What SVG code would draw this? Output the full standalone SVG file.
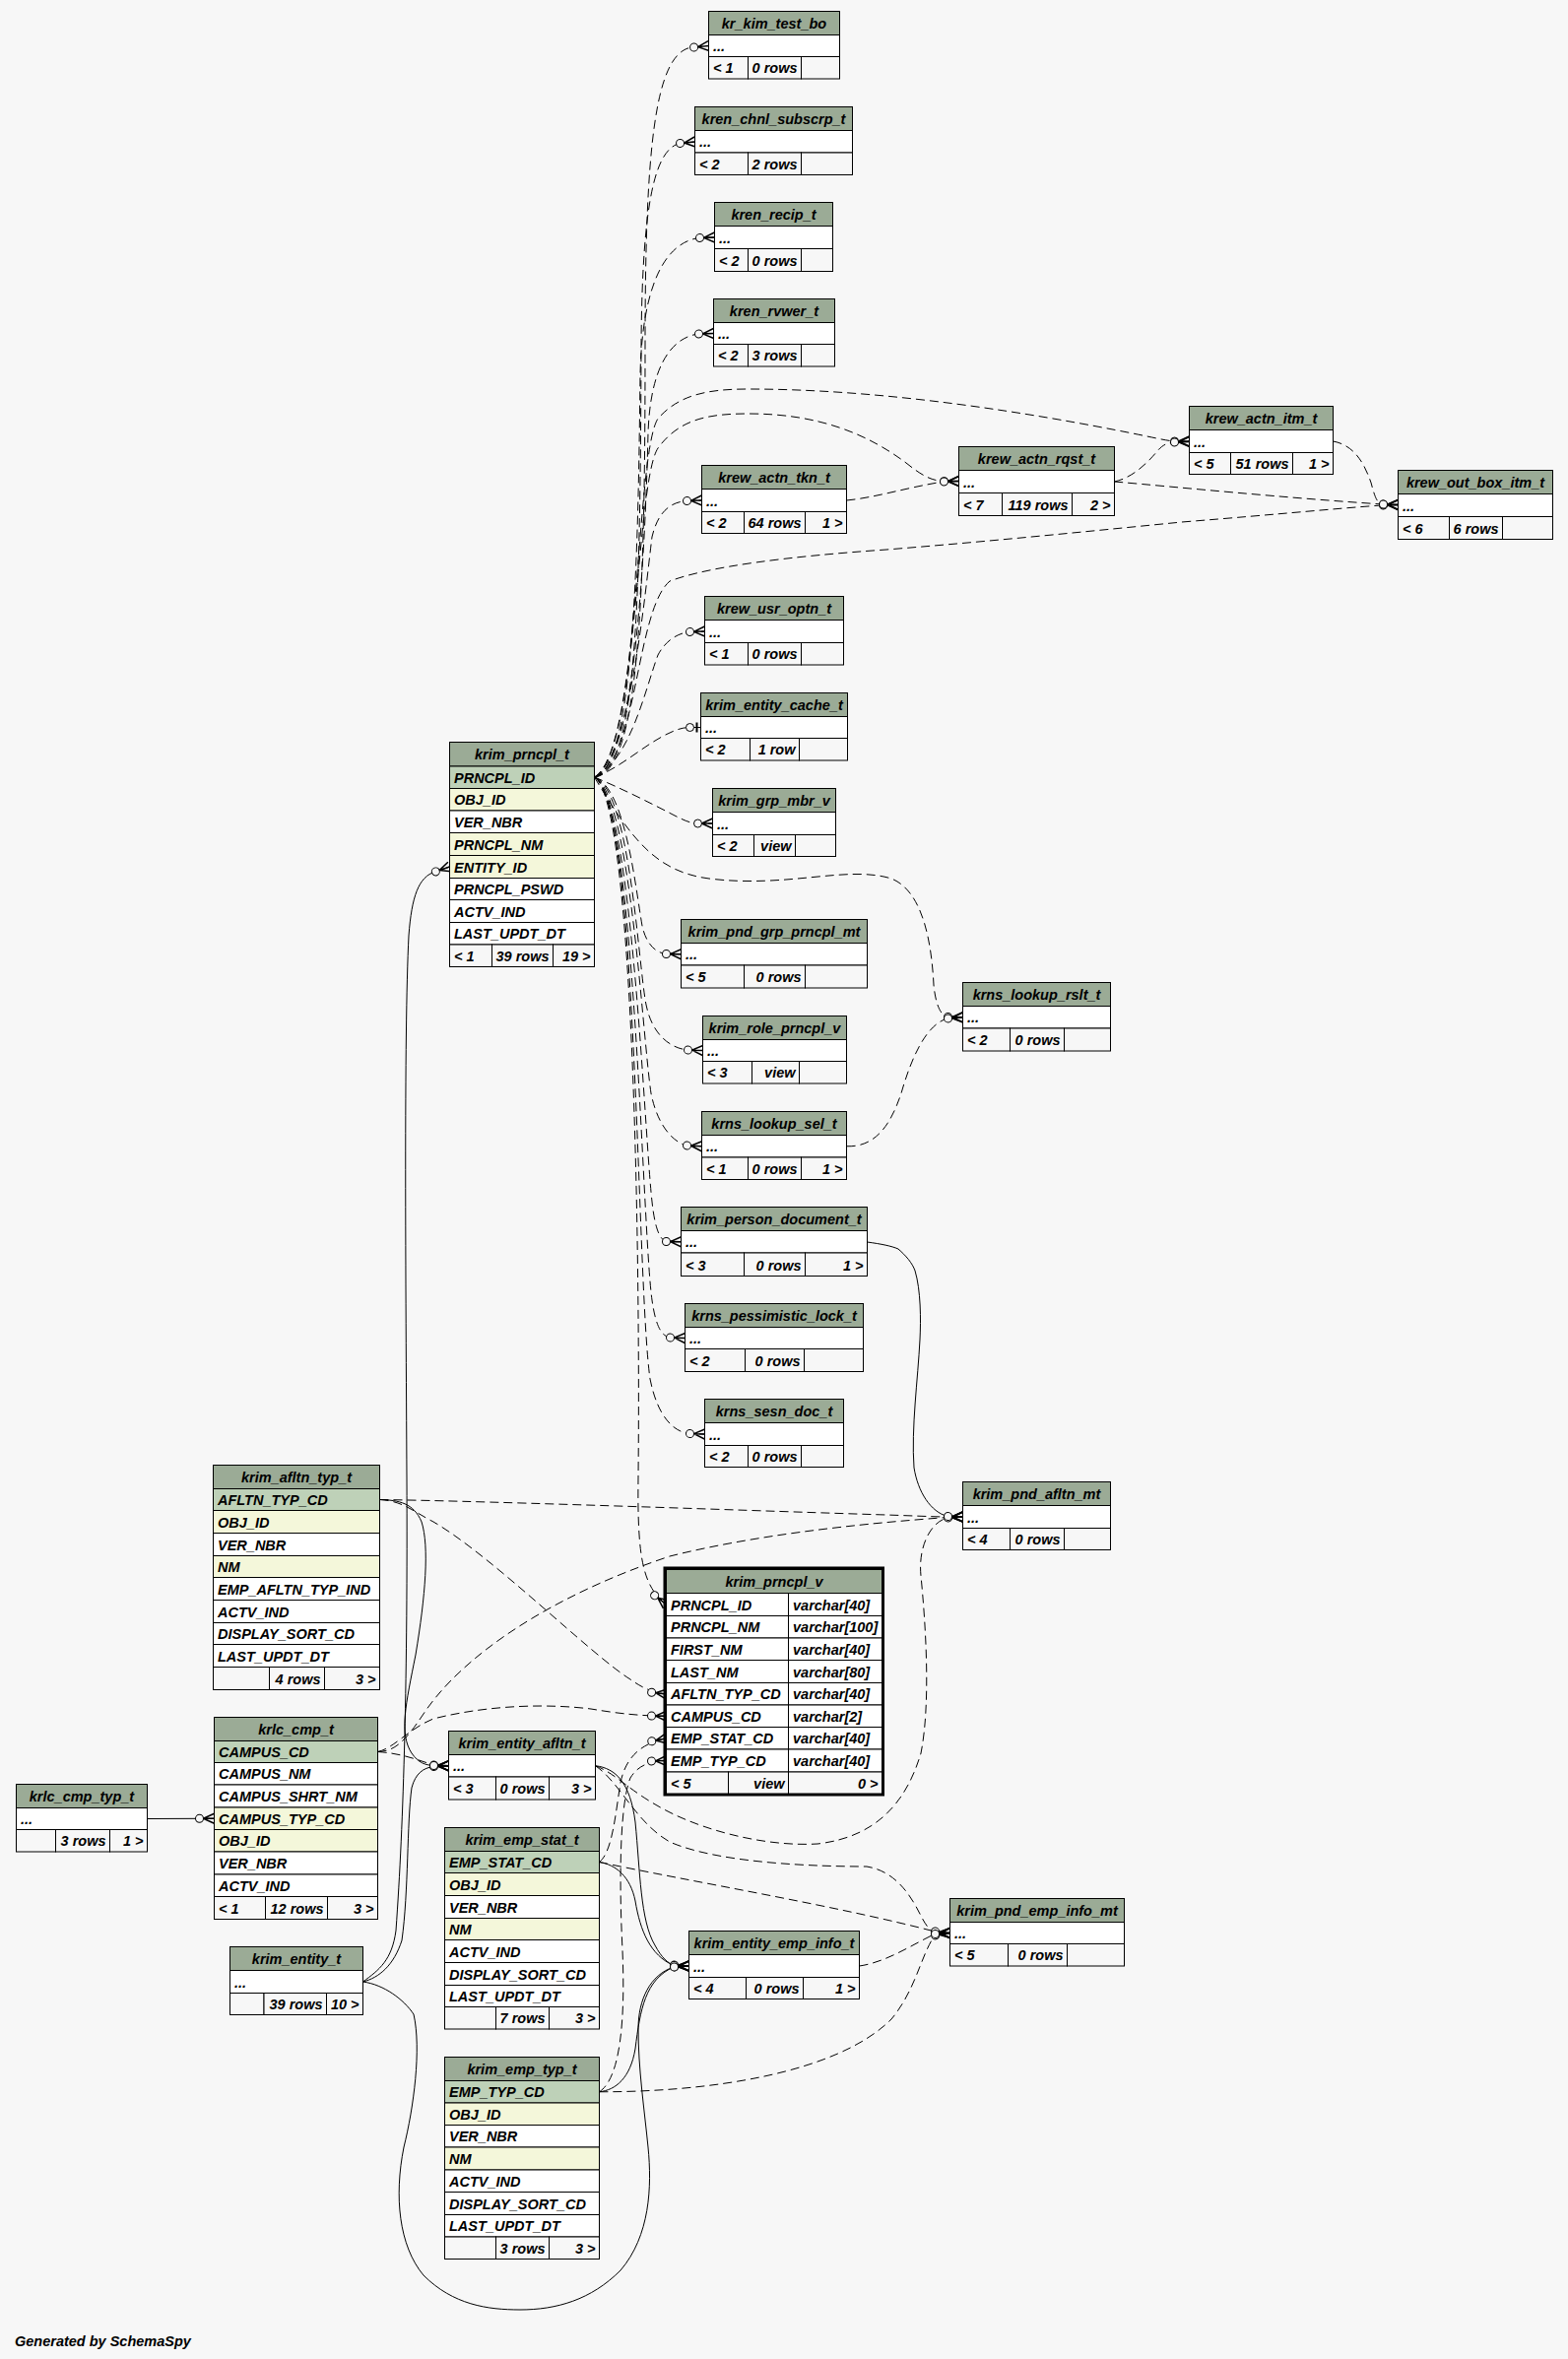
<svg xmlns="http://www.w3.org/2000/svg" width="1592" height="2395" viewBox="0 0 1592 2395">
<style>
text{font-family:"Liberation Sans",Arial,Helvetica,sans-serif;font-size:14.5px;font-weight:bold;font-style:italic;fill:#000}
.t{text-anchor:middle}
.r{text-anchor:end}
.h,.pk,.ix,.w,.f{stroke:#000;stroke-width:1}
.h{fill:#9bab96}.pk{fill:#bed1b8}.ix{fill:#f4f7da}.w{fill:#fff}.f{fill:#f7f7f7}
.c{fill:none;stroke:#000;stroke-width:1}
.d{stroke-dasharray:9,5}
.bold{fill:none;stroke:#000;stroke-width:3}
</style>
<defs>
<marker id="many" viewBox="-22 -8 24 16" markerWidth="24" markerHeight="16" refX="0" refY="0" orient="auto" markerUnits="userSpaceOnUse" overflow="visible">
<path d="M-11,0 L0,-5 M-11,0 L0,0 M-11,0 L0,5" fill="none" stroke="#000" stroke-width="1.5" stroke-dasharray="none"/>
<circle cx="-15" cy="0" r="4" fill="#f7f7f7" stroke="#000" stroke-width="1" stroke-dasharray="none"/>
</marker>
<marker id="one" viewBox="-18 -8 20 16" markerWidth="20" markerHeight="16" refX="0" refY="0" orient="auto" markerUnits="userSpaceOnUse" overflow="visible">
<path d="M-4,-5 L-4,5" fill="none" stroke="#000" stroke-width="2" stroke-dasharray="none"/>
<circle cx="-11" cy="0" r="4" fill="#f7f7f7" stroke="#000" stroke-width="1" stroke-dasharray="none"/>
</marker>
</defs>
<rect x="0" y="0" width="1592" height="2395" fill="#f7f7f7"/>

<g id="connectors">
<path class="c d" marker-end="url(#many)" d="M603.5,789 C650,785 655,600 655,350 C655,150 665,58 700,48.5 L719.5,46.5"/>
<path class="c d" marker-end="url(#many)" d="M603.5,789 C648,783 650,600 651,350 C652,200 666,152 690,145.5 L705.5,144"/>
<path class="c d" marker-end="url(#many)" d="M603.5,789 C645,780 648,550 650,380 C652,290 675,246 710,241.5 L725.5,241"/>
<path class="c d" marker-end="url(#many)" d="M603.5,789 C645,778 655,560 658,440 C660,375 680,343 709,339 L724.5,338.5"/>
<path class="c d" marker-end="url(#many)" d="M603.5,789 C640,770 655,600 662,545 C668,520 680,510 697,508.5 L712.5,508"/>
<path class="c d" marker-end="url(#many)" d="M603.5,789 C640,772 655,700 668,665 C676,650 688,643 700,641.5 L715.5,641"/>
<path class="c d" marker-end="url(#one)" d="M603.5,789 C630,780 655,755 680,744 C688,740 695,738.5 700,738.5 L711.5,738.5"/>
<path class="c d" marker-end="url(#many)" d="M603.5,789 C630,800 660,815 685,828 C695,833 700,835.5 708,836 L723.5,836"/>
<path class="c d" marker-end="url(#many)" d="M603.5,789 C635,800 645,900 652,940 C656,958 665,967 676,968.5 L691.5,968.75"/>
<path class="c d" marker-end="url(#many)" d="M603.5,789 C640,802 648,980 656,1020 C662,1050 680,1064 698,1066 L713.5,1066.5"/>
<path class="c d" marker-end="url(#many)" d="M603.5,789 C640,805 652,1050 661,1110 C668,1145 685,1160 697,1163 L712.5,1163.75"/>
<path class="c d" marker-end="url(#many)" d="M603.5,789 C642,808 654,1150 662,1220 C665,1248 670,1258 676,1260.5 L691.5,1260.75"/>
<path class="c d" marker-end="url(#many)" d="M603.5,789 C645,810 652,1250 662,1320 C666,1348 672,1356 680,1358 L695.5,1358.5"/>
<path class="c d" marker-end="url(#many)" d="M603.5,789 C648,812 646,1300 660,1400 C668,1440 685,1454 700,1455.5 L715.5,1456"/>
<path class="c d" marker-end="url(#many)" d="M603.5,789 C645,815 650,1300 648,1500 C647,1580 652,1610 676.5,1629"/>
<path class="c d" marker-end="url(#many)" d="M603.5,789 C640,850 665,885 720,892 C800,902 860,878 905,892 C938,905 946,960 948,1000 C950,1020 955,1031 962,1032.5 L977.5,1032.75"/>
<path class="c d" marker-end="url(#many)" d="M603.5,789 C648,765 645,490 668,455 C690,425 720,420 760,420 C830,420 880,440 920,470 C935,482 945,488 958,488.5 L973.5,488.5"/>
<path class="c d" marker-end="url(#many)" d="M603.5,789 C650,762 645,460 668,425 C690,400 720,395 760,395 C900,395 1050,420 1150,440 C1170,444 1185,447.5 1192,448 L1207.5,448"/>
<path class="c d" marker-end="url(#many)" d="M603.5,789 C648,772 645,620 680,590 C720,575 800,565 900,558 C1000,550 1100,540 1200,530 C1300,522 1370,515 1404,513 L1419.5,512.5"/>
<path class="c d" marker-end="url(#many)" d="M859.5,508 C890,505 920,495 958,489 L973.5,488.5"/>
<path class="c d" marker-end="url(#many)" d="M1131.5,489 C1150,485 1165,470 1175,458 C1180,452 1185,449.5 1192,449 L1207.5,448.5"/>
<path class="c d" marker-end="url(#many)" d="M1131.5,489 C1200,495 1300,505 1404,512 L1419.5,512.5"/>
<path class="c d" marker-end="url(#many)" d="M1353.5,448 C1375,452 1385,470 1392,490 C1396,505 1398,511 1404,512 L1419.5,512.5"/>
<path class="c d" marker-end="url(#many)" d="M859.5,1163.75 C890,1165 905,1140 915,1110 C925,1075 940,1040 962,1034 L977.5,1033"/>
<path class="c d" marker-end="url(#many)" d="M385.5,1522.5 C500,1524 800,1535 900,1538 C930,1539 950,1540 962,1540 L977.5,1540"/>
<path class="c d" marker-end="url(#many)" d="M385.5,1522.5 C410,1524 420,1535 440,1545 C500,1580 600,1680 640,1705 C650,1712 660,1718 676.5,1720"/>
<path class="c d" marker-end="url(#many)" d="M383.5,1778.5 C400,1778 410,1770 430,1740 C470,1680 560,1620 680,1580 C780,1555 900,1545 962,1540.5 L977.5,1540"/>
<path class="c d" marker-end="url(#many)" d="M383.5,1778.5 C400,1775 415,1755 440,1745 C500,1730 560,1730 600,1735 C630,1740 650,1742 676.5,1742.25"/>
<path class="c d" marker-end="url(#many)" d="M383.5,1778.5 C405,1780 420,1785 440,1792 L455.5,1792.75"/>
<path class="c d" marker-end="url(#many)" d="M604.5,1792.75 C625,1800 640,1820 680,1840 C720,1860 780,1875 830,1872 C890,1865 920,1830 935,1780 C945,1730 940,1650 935,1600 C932,1570 945,1545 962,1541 L977.5,1540"/>
<path class="c d" marker-end="url(#many)" d="M604.5,1792.75 C630,1810 645,1850 680,1870 C730,1892 830,1895 880,1895 C910,1900 925,1925 935,1945 C940,1955 945,1961 949,1962 L964.5,1962.5"/>
<path class="c d" marker-end="url(#many)" d="M608.5,1890.5 C700,1910 850,1935 949,1961 L964.5,1962.5"/>
<path class="c d" marker-end="url(#many)" d="M608.5,2123.75 C720,2124 850,2105 905,2050 C930,2020 935,1985 949,1965 L964.5,1962.5"/>
<path class="c d" marker-end="url(#many)" d="M872.5,1996 C900,1992 925,1975 949,1963.5 L964.5,1962.5"/>
<path class="c d" marker-end="url(#many)" d="M608.5,1890.5 C622,1880 625,1840 630,1810 C635,1785 650,1770 676.5,1765"/>
<path class="c d" marker-end="url(#many)" d="M608.5,2123.75 C630,2110 635,2050 632,1980 C628,1900 630,1830 640,1805 C648,1792 660,1788 676.5,1787.5"/>
<path class="c" marker-end="url(#many)" d="M149.5,1846.5 L217.5,1846.25"/>
<path class="c" marker-end="url(#many)" d="M368.5,2012 C385,2000 398,1990 402,1960 C410,1850 414,1700 413,1500 C412,1300 410,1050 415,950 C418,910 425,890 442,885 L456.5,880"/>
<path class="c" marker-end="url(#many)" d="M368.5,2012 C385,2008 400,1995 408,1970 C415,1920 413,1850 418,1815 C422,1800 430,1795 440,1793.5 L455.5,1792.75"/>
<path class="c" marker-end="url(#many)" d="M385.5,1522.5 C405,1523 420,1526 428,1545 C436,1570 432,1620 422,1680 C412,1730 405,1760 418,1780 C425,1790 432,1792 440,1792.5 L455.5,1792.75"/>
<path class="c" marker-end="url(#many)" d="M368.5,2012 C390,2015 410,2030 420,2045 C428,2080 420,2140 410,2180 C400,2230 405,2280 430,2310 C460,2340 495,2345 528,2345 C565,2345 600,2335 630,2305 C660,2270 662,2220 658,2180 C654,2140 648,2100 648,2060 C648,2030 660,2005 684,1997 L699.5,1996"/>
<path class="c" marker-end="url(#many)" d="M604.5,1792.75 C625,1795 640,1810 645,1850 C650,1900 650,1950 665,1975 C672,1988 678,1993 684,1995 L699.5,1996"/>
<path class="c" marker-end="url(#many)" d="M608.5,1890.5 C625,1893 640,1905 645,1930 C650,1960 660,1985 684,1995.5 L699.5,1996"/>
<path class="c" marker-end="url(#many)" d="M608.5,2123.75 C625,2122 640,2110 645,2080 C650,2040 655,2010 684,1997 L699.5,1996"/>
<path class="c" marker-end="url(#many)" d="M880.5,1261 C895,1263 905,1265 912,1268 C920,1275 926,1282 929,1290 C935,1310 935,1340 934,1360 C932,1400 925,1450 928,1490 C932,1515 945,1535 962,1539.5 L977.5,1540"/>
</g>

<g id="kr_kim_test_bo">
<rect class="h" x="719.5" y="11.5" width="133" height="24"/><text class="t" x="786" y="28.5">kr_kim_test_bo</text>
<rect class="w" x="719.5" y="35.5" width="133" height="22"/><text x="724" y="51.5">...</text>
<rect class="f" x="719.5" y="57.5" width="40" height="22.5"/><rect class="f" x="759.5" y="57.5" width="54" height="22.5"/><rect class="f" x="813.5" y="57.5" width="39" height="22.5"/>
<text x="724" y="74">&lt; 1</text><text class="r" x="809.5" y="74">0 rows</text>
</g>
<g id="kren_chnl_subscrp_t">
<rect class="h" x="705.5" y="108.5" width="160" height="24"/><text class="t" x="785.5" y="125.5">kren_chnl_subscrp_t</text>
<rect class="w" x="705.5" y="132.5" width="160" height="22.5"/><text x="710" y="149">...</text>
<rect class="f" x="705.5" y="155" width="54" height="22.5"/><rect class="f" x="759.5" y="155" width="54" height="22.5"/><rect class="f" x="813.5" y="155" width="52" height="22.5"/>
<text x="710" y="171.5">&lt; 2</text><text class="r" x="809.5" y="171.5">2 rows</text>
</g>
<g id="kren_recip_t">
<rect class="h" x="725.5" y="205.5" width="120" height="24"/><text class="t" x="785.5" y="222.5">kren_recip_t</text>
<rect class="w" x="725.5" y="229.5" width="120" height="23"/><text x="730" y="246.5">...</text>
<rect class="f" x="725.5" y="252.5" width="34" height="23"/><rect class="f" x="759.5" y="252.5" width="54" height="23"/><rect class="f" x="813.5" y="252.5" width="32" height="23"/>
<text x="730" y="269.5">&lt; 2</text><text class="r" x="809.5" y="269.5">0 rows</text>
</g>
<g id="kren_rvwer_t">
<rect class="h" x="724.5" y="303.5" width="123" height="24"/><text class="t" x="786" y="320.5">kren_rvwer_t</text>
<rect class="w" x="724.5" y="327.5" width="123" height="22"/><text x="729" y="343.5">...</text>
<rect class="f" x="724.5" y="349.5" width="35" height="22.5"/><rect class="f" x="759.5" y="349.5" width="54" height="22.5"/><rect class="f" x="813.5" y="349.5" width="34" height="22.5"/>
<text x="729" y="366">&lt; 2</text><text class="r" x="809.5" y="366">3 rows</text>
</g>
<g id="krew_actn_itm_t">
<rect class="h" x="1207.5" y="412.5" width="146" height="24"/><text class="t" x="1280.5" y="429.5">krew_actn_itm_t</text>
<rect class="w" x="1207.5" y="436.5" width="146" height="23"/><text x="1212" y="453.5">...</text>
<rect class="f" x="1207.5" y="459.5" width="42" height="22"/><rect class="f" x="1249.5" y="459.5" width="63" height="22"/><rect class="f" x="1312.5" y="459.5" width="41" height="22"/>
<text x="1212" y="475.5">&lt; 5</text><text class="r" x="1308.5" y="475.5">51 rows</text><text class="r" x="1349.5" y="475.5">1 &gt;</text>
</g>
<g id="krew_actn_rqst_t">
<rect class="h" x="973.5" y="453.5" width="158" height="24"/><text class="t" x="1052.5" y="470.5">krew_actn_rqst_t</text>
<rect class="w" x="973.5" y="477.5" width="158" height="23"/><text x="978" y="494.5">...</text>
<rect class="f" x="973.5" y="500.5" width="44" height="23"/><rect class="f" x="1017.5" y="500.5" width="71" height="23"/><rect class="f" x="1088.5" y="500.5" width="43" height="23"/>
<text x="978" y="517.5">&lt; 7</text><text class="r" x="1084.5" y="517.5">119 rows</text><text class="r" x="1127.5" y="517.5">2 &gt;</text>
</g>
<g id="krew_out_box_itm_t">
<rect class="h" x="1419.5" y="477.5" width="157" height="24"/><text class="t" x="1498" y="494.5">krew_out_box_itm_t</text>
<rect class="w" x="1419.5" y="501.5" width="157" height="23"/><text x="1424" y="518.5">...</text>
<rect class="f" x="1419.5" y="524.5" width="52" height="23"/><rect class="f" x="1471.5" y="524.5" width="54" height="23"/><rect class="f" x="1525.5" y="524.5" width="51" height="23"/>
<text x="1424" y="541.5">&lt; 6</text><text class="r" x="1521.5" y="541.5">6 rows</text>
</g>
<g id="krew_actn_tkn_t">
<rect class="h" x="712.5" y="472.5" width="147" height="24"/><text class="t" x="786" y="489.5">krew_actn_tkn_t</text>
<rect class="w" x="712.5" y="496.5" width="147" height="23"/><text x="717" y="513.5">...</text>
<rect class="f" x="712.5" y="519.5" width="43" height="22"/><rect class="f" x="755.5" y="519.5" width="62" height="22"/><rect class="f" x="817.5" y="519.5" width="42" height="22"/>
<text x="717" y="535.5">&lt; 2</text><text class="r" x="813.5" y="535.5">64 rows</text><text class="r" x="855.5" y="535.5">1 &gt;</text>
</g>
<g id="krew_usr_optn_t">
<rect class="h" x="715.5" y="605.5" width="141" height="24"/><text class="t" x="786" y="622.5">krew_usr_optn_t</text>
<rect class="w" x="715.5" y="629.5" width="141" height="23"/><text x="720" y="646.5">...</text>
<rect class="f" x="715.5" y="652.5" width="44" height="22.5"/><rect class="f" x="759.5" y="652.5" width="54" height="22.5"/><rect class="f" x="813.5" y="652.5" width="43" height="22.5"/>
<text x="720" y="669">&lt; 1</text><text class="r" x="809.5" y="669">0 rows</text>
</g>
<g id="krim_entity_cache_t">
<rect class="h" x="711.5" y="703.5" width="149" height="24"/><text class="t" x="786" y="720.5">krim_entity_cache_t</text>
<rect class="w" x="711.5" y="727.5" width="149" height="22"/><text x="716" y="743.5">...</text>
<rect class="f" x="711.5" y="749.5" width="50" height="22.5"/><rect class="f" x="761.5" y="749.5" width="50" height="22.5"/><rect class="f" x="811.5" y="749.5" width="49" height="22.5"/>
<text x="716" y="766">&lt; 2</text><text class="r" x="807.5" y="766">1 row</text>
</g>
<g id="krim_grp_mbr_v">
<rect class="h" x="723.5" y="800.5" width="125" height="24"/><text class="t" x="786" y="817.5">krim_grp_mbr_v</text>
<rect class="w" x="723.5" y="824.5" width="125" height="23"/><text x="728" y="841.5">...</text>
<rect class="f" x="723.5" y="847.5" width="42" height="22"/><rect class="f" x="765.5" y="847.5" width="42" height="22"/><rect class="f" x="807.5" y="847.5" width="41" height="22"/>
<text x="728" y="863.5">&lt; 2</text><text class="r" x="803.5" y="863.5">view</text>
</g>
<g id="krim_pnd_grp_prncpl_mt">
<rect class="h" x="691.5" y="933.5" width="189" height="24"/><text class="t" x="786" y="950.5">krim_pnd_grp_prncpl_mt</text>
<rect class="w" x="691.5" y="957.5" width="189" height="22.5"/><text x="696" y="974">...</text>
<rect class="f" x="691.5" y="980" width="64" height="23"/><rect class="f" x="755.5" y="980" width="62" height="23"/><rect class="f" x="817.5" y="980" width="63" height="23"/>
<text x="696" y="997">&lt; 5</text><text class="r" x="813.5" y="997">0 rows</text>
</g>
<g id="krim_role_prncpl_v">
<rect class="h" x="713.5" y="1031.5" width="146" height="24"/><text class="t" x="786.5" y="1048.5">krim_role_prncpl_v</text>
<rect class="w" x="713.5" y="1055.5" width="146" height="22"/><text x="718" y="1071.5">...</text>
<rect class="f" x="713.5" y="1077.5" width="50" height="22.5"/><rect class="f" x="763.5" y="1077.5" width="48" height="22.5"/><rect class="f" x="811.5" y="1077.5" width="48" height="22.5"/>
<text x="718" y="1094">&lt; 3</text><text class="r" x="807.5" y="1094">view</text>
</g>
<g id="krns_lookup_sel_t">
<rect class="h" x="712.5" y="1128.5" width="147" height="24"/><text class="t" x="786" y="1145.5">krns_lookup_sel_t</text>
<rect class="w" x="712.5" y="1152.5" width="147" height="22.5"/><text x="717" y="1169">...</text>
<rect class="f" x="712.5" y="1175" width="47" height="22.5"/><rect class="f" x="759.5" y="1175" width="54" height="22.5"/><rect class="f" x="813.5" y="1175" width="46" height="22.5"/>
<text x="717" y="1191.5">&lt; 1</text><text class="r" x="809.5" y="1191.5">0 rows</text><text class="r" x="855.5" y="1191.5">1 &gt;</text>
</g>
<g id="krns_lookup_rslt_t">
<rect class="h" x="977.5" y="997.5" width="150" height="24"/><text class="t" x="1052.5" y="1014.5">krns_lookup_rslt_t</text>
<rect class="w" x="977.5" y="1021.5" width="150" height="22.5"/><text x="982" y="1038">...</text>
<rect class="f" x="977.5" y="1044" width="48" height="23"/><rect class="f" x="1025.5" y="1044" width="55" height="23"/><rect class="f" x="1080.5" y="1044" width="47" height="23"/>
<text x="982" y="1061">&lt; 2</text><text class="r" x="1076.5" y="1061">0 rows</text>
</g>
<g id="krim_person_document_t">
<rect class="h" x="691.5" y="1225.5" width="189" height="24"/><text class="t" x="786" y="1242.5">krim_person_document_t</text>
<rect class="w" x="691.5" y="1249.5" width="189" height="22.5"/><text x="696" y="1266">...</text>
<rect class="f" x="691.5" y="1272" width="64" height="23.5"/><rect class="f" x="755.5" y="1272" width="62" height="23.5"/><rect class="f" x="817.5" y="1272" width="63" height="23.5"/>
<text x="696" y="1289.5">&lt; 3</text><text class="r" x="813.5" y="1289.5">0 rows</text><text class="r" x="876.5" y="1289.5">1 &gt;</text>
</g>
<g id="krns_pessimistic_lock_t">
<rect class="h" x="695.5" y="1323.5" width="181" height="24"/><text class="t" x="786" y="1340.5">krns_pessimistic_lock_t</text>
<rect class="w" x="695.5" y="1347.5" width="181" height="22"/><text x="700" y="1363.5">...</text>
<rect class="f" x="695.5" y="1369.5" width="61" height="23"/><rect class="f" x="756.5" y="1369.5" width="60" height="23"/><rect class="f" x="816.5" y="1369.5" width="60" height="23"/>
<text x="700" y="1386.5">&lt; 2</text><text class="r" x="812.5" y="1386.5">0 rows</text>
</g>
<g id="krns_sesn_doc_t">
<rect class="h" x="715.5" y="1420.5" width="141" height="24"/><text class="t" x="786" y="1437.5">krns_sesn_doc_t</text>
<rect class="w" x="715.5" y="1444.5" width="141" height="23"/><text x="720" y="1461.5">...</text>
<rect class="f" x="715.5" y="1467.5" width="44" height="22"/><rect class="f" x="759.5" y="1467.5" width="54" height="22"/><rect class="f" x="813.5" y="1467.5" width="43" height="22"/>
<text x="720" y="1483.5">&lt; 2</text><text class="r" x="809.5" y="1483.5">0 rows</text>
</g>
<g id="krim_pnd_afltn_mt">
<rect class="h" x="977.5" y="1504.5" width="150" height="24"/><text class="t" x="1052.5" y="1521.5">krim_pnd_afltn_mt</text>
<rect class="w" x="977.5" y="1528.5" width="150" height="23"/><text x="982" y="1545.5">...</text>
<rect class="f" x="977.5" y="1551.5" width="48" height="22"/><rect class="f" x="1025.5" y="1551.5" width="55" height="22"/><rect class="f" x="1080.5" y="1551.5" width="47" height="22"/>
<text x="982" y="1567.5">&lt; 4</text><text class="r" x="1076.5" y="1567.5">0 rows</text>
</g>
<g id="krim_prncpl_v">
<rect class="h" x="676.5" y="1593.5" width="219" height="24"/><text class="t" x="786" y="1610.5">krim_prncpl_v</text>
<rect class="w" x="676.5" y="1617.5" width="124" height="23"/><rect class="w" x="800.5" y="1617.5" width="95" height="23"/><text x="681" y="1634.5">PRNCPL_ID</text><text x="805" y="1634.5">varchar[40]</text>
<rect class="w" x="676.5" y="1640.5" width="124" height="22.5"/><rect class="w" x="800.5" y="1640.5" width="95" height="22.5"/><text x="681" y="1657">PRNCPL_NM</text><text x="805" y="1657">varchar[100]</text>
<rect class="w" x="676.5" y="1663" width="124" height="22.5"/><rect class="w" x="800.5" y="1663" width="95" height="22.5"/><text x="681" y="1679.5">FIRST_NM</text><text x="805" y="1679.5">varchar[40]</text>
<rect class="w" x="676.5" y="1685.5" width="124" height="23"/><rect class="w" x="800.5" y="1685.5" width="95" height="23"/><text x="681" y="1702.5">LAST_NM</text><text x="805" y="1702.5">varchar[80]</text>
<rect class="w" x="676.5" y="1708.5" width="124" height="22.5"/><rect class="w" x="800.5" y="1708.5" width="95" height="22.5"/><text x="681" y="1725">AFLTN_TYP_CD</text><text x="805" y="1725">varchar[40]</text>
<rect class="w" x="676.5" y="1731" width="124" height="22.5"/><rect class="w" x="800.5" y="1731" width="95" height="22.5"/><text x="681" y="1747.5">CAMPUS_CD</text><text x="805" y="1747.5">varchar[2]</text>
<rect class="w" x="676.5" y="1753.5" width="124" height="22.5"/><rect class="w" x="800.5" y="1753.5" width="95" height="22.5"/><text x="681" y="1770">EMP_STAT_CD</text><text x="805" y="1770">varchar[40]</text>
<rect class="w" x="676.5" y="1776" width="124" height="23"/><rect class="w" x="800.5" y="1776" width="95" height="23"/><text x="681" y="1793">EMP_TYP_CD</text><text x="805" y="1793">varchar[40]</text>
<rect class="f" x="676.5" y="1799" width="63" height="22.5"/><rect class="f" x="739.5" y="1799" width="61" height="22.5"/><rect class="f" x="800.5" y="1799" width="95" height="22.5"/>
<text x="681" y="1815.5">&lt; 5</text><text class="r" x="796.5" y="1815.5">view</text><text class="r" x="891.5" y="1815.5">0 &gt;</text>
<rect class="bold" x="675" y="1592" width="221.5" height="230"/>
</g>
<g id="krim_prncpl_t">
<rect class="h" x="456.5" y="753.5" width="147" height="24.5"/><text class="t" x="530" y="771">krim_prncpl_t</text>
<rect class="pk" x="456.5" y="778" width="147" height="22.5"/><text x="461" y="794.5">PRNCPL_ID</text>
<rect class="ix" x="456.5" y="800.5" width="147" height="22.5"/><text x="461" y="817">OBJ_ID</text>
<rect class="w" x="456.5" y="823" width="147" height="22.5"/><text x="461" y="839.5">VER_NBR</text>
<rect class="ix" x="456.5" y="845.5" width="147" height="23"/><text x="461" y="862.5">PRNCPL_NM</text>
<rect class="ix" x="456.5" y="868.5" width="147" height="23"/><text x="461" y="885.5">ENTITY_ID</text>
<rect class="w" x="456.5" y="891.5" width="147" height="22"/><text x="461" y="907.5">PRNCPL_PSWD</text>
<rect class="w" x="456.5" y="913.5" width="147" height="23"/><text x="461" y="930.5">ACTV_IND</text>
<rect class="w" x="456.5" y="936.5" width="147" height="22.5"/><text x="461" y="953">LAST_UPDT_DT</text>
<rect class="f" x="456.5" y="959" width="43" height="22.5"/><rect class="f" x="499.5" y="959" width="62" height="22.5"/><rect class="f" x="561.5" y="959" width="42" height="22.5"/>
<text x="461" y="975.5">&lt; 1</text><text class="r" x="557.5" y="975.5">39 rows</text><text class="r" x="599.5" y="975.5">19 &gt;</text>
</g>
<g id="krim_afltn_typ_t">
<rect class="h" x="216.5" y="1487.5" width="169" height="24"/><text class="t" x="301" y="1504.5">krim_afltn_typ_t</text>
<rect class="pk" x="216.5" y="1511.5" width="169" height="22"/><text x="221" y="1527.5">AFLTN_TYP_CD</text>
<rect class="ix" x="216.5" y="1533.5" width="169" height="23"/><text x="221" y="1550.5">OBJ_ID</text>
<rect class="w" x="216.5" y="1556.5" width="169" height="23"/><text x="221" y="1573.5">VER_NBR</text>
<rect class="ix" x="216.5" y="1579.5" width="169" height="22"/><text x="221" y="1595.5">NM</text>
<rect class="w" x="216.5" y="1601.5" width="169" height="23"/><text x="221" y="1618.5">EMP_AFLTN_TYP_IND</text>
<rect class="w" x="216.5" y="1624.5" width="169" height="23"/><text x="221" y="1641.5">ACTV_IND</text>
<rect class="w" x="216.5" y="1647.5" width="169" height="22"/><text x="221" y="1663.5">DISPLAY_SORT_CD</text>
<rect class="w" x="216.5" y="1669.5" width="169" height="23"/><text x="221" y="1686.5">LAST_UPDT_DT</text>
<rect class="f" x="216.5" y="1692.5" width="57" height="23"/><rect class="f" x="273.5" y="1692.5" width="56" height="23"/><rect class="f" x="329.5" y="1692.5" width="56" height="23"/>
<text class="r" x="325.5" y="1709.5">4 rows</text><text class="r" x="381.5" y="1709.5">3 &gt;</text>
</g>
<g id="krlc_cmp_t">
<rect class="h" x="217.5" y="1743.5" width="166" height="24"/><text class="t" x="300.5" y="1760.5">krlc_cmp_t</text>
<rect class="pk" x="217.5" y="1767.5" width="166" height="22"/><text x="222" y="1783.5">CAMPUS_CD</text>
<rect class="w" x="217.5" y="1789.5" width="166" height="22.5"/><text x="222" y="1806">CAMPUS_NM</text>
<rect class="w" x="217.5" y="1812" width="166" height="23"/><text x="222" y="1829">CAMPUS_SHRT_NM</text>
<rect class="ix" x="217.5" y="1835" width="166" height="22.5"/><text x="222" y="1851.5">CAMPUS_TYP_CD</text>
<rect class="ix" x="217.5" y="1857.5" width="166" height="22.5"/><text x="222" y="1874">OBJ_ID</text>
<rect class="w" x="217.5" y="1880" width="166" height="23"/><text x="222" y="1897">VER_NBR</text>
<rect class="w" x="217.5" y="1903" width="166" height="22.5"/><text x="222" y="1919.5">ACTV_IND</text>
<rect class="f" x="217.5" y="1925.5" width="52" height="23"/><rect class="f" x="269.5" y="1925.5" width="63" height="23"/><rect class="f" x="332.5" y="1925.5" width="51" height="23"/>
<text x="222" y="1942.5">&lt; 1</text><text class="r" x="328.5" y="1942.5">12 rows</text><text class="r" x="379.5" y="1942.5">3 &gt;</text>
</g>
<g id="krlc_cmp_typ_t">
<rect class="h" x="16.5" y="1811.5" width="133" height="24"/><text class="t" x="83" y="1828.5">krlc_cmp_typ_t</text>
<rect class="w" x="16.5" y="1835.5" width="133" height="22"/><text x="21" y="1851.5">...</text>
<rect class="f" x="16.5" y="1857.5" width="40" height="22.5"/><rect class="f" x="56.5" y="1857.5" width="55" height="22.5"/><rect class="f" x="111.5" y="1857.5" width="38" height="22.5"/>
<text class="r" x="107.5" y="1874">3 rows</text><text class="r" x="145.5" y="1874">1 &gt;</text>
</g>
<g id="krim_entity_afltn_t">
<rect class="h" x="455.5" y="1757.5" width="149" height="24"/><text class="t" x="530" y="1774.5">krim_entity_afltn_t</text>
<rect class="w" x="455.5" y="1781.5" width="149" height="22.5"/><text x="460" y="1798">...</text>
<rect class="f" x="455.5" y="1804" width="48" height="23"/><rect class="f" x="503.5" y="1804" width="54" height="23"/><rect class="f" x="557.5" y="1804" width="47" height="23"/>
<text x="460" y="1821">&lt; 3</text><text class="r" x="553.5" y="1821">0 rows</text><text class="r" x="600.5" y="1821">3 &gt;</text>
</g>
<g id="krim_entity_t">
<rect class="h" x="233.5" y="1976.5" width="135" height="24"/><text class="t" x="301" y="1993.5">krim_entity_t</text>
<rect class="w" x="233.5" y="2000.5" width="135" height="23"/><text x="238" y="2017.5">...</text>
<rect class="f" x="233.5" y="2023.5" width="34.5" height="22"/><rect class="f" x="268" y="2023.5" width="63.5" height="22"/><rect class="f" x="331.5" y="2023.5" width="37" height="22"/>
<text class="r" x="327.5" y="2039.5">39 rows</text><text class="r" x="364.5" y="2039.5">10 &gt;</text>
</g>
<g id="krim_emp_stat_t">
<rect class="h" x="451.5" y="1855.5" width="157" height="24"/><text class="t" x="530" y="1872.5">krim_emp_stat_t</text>
<rect class="pk" x="451.5" y="1879.5" width="157" height="22"/><text x="456" y="1895.5">EMP_STAT_CD</text>
<rect class="ix" x="451.5" y="1901.5" width="157" height="23"/><text x="456" y="1918.5">OBJ_ID</text>
<rect class="w" x="451.5" y="1924.5" width="157" height="23"/><text x="456" y="1941.5">VER_NBR</text>
<rect class="ix" x="451.5" y="1947.5" width="157" height="22"/><text x="456" y="1963.5">NM</text>
<rect class="w" x="451.5" y="1969.5" width="157" height="23"/><text x="456" y="1986.5">ACTV_IND</text>
<rect class="w" x="451.5" y="1992.5" width="157" height="23"/><text x="456" y="2009.5">DISPLAY_SORT_CD</text>
<rect class="w" x="451.5" y="2015.5" width="157" height="22"/><text x="456" y="2031.5">LAST_UPDT_DT</text>
<rect class="f" x="451.5" y="2037.5" width="52" height="22.5"/><rect class="f" x="503.5" y="2037.5" width="54" height="22.5"/><rect class="f" x="557.5" y="2037.5" width="51" height="22.5"/>
<text class="r" x="553.5" y="2054">7 rows</text><text class="r" x="604.5" y="2054">3 &gt;</text>
</g>
<g id="krim_emp_typ_t">
<rect class="h" x="451.5" y="2088.5" width="157" height="24"/><text class="t" x="530" y="2105.5">krim_emp_typ_t</text>
<rect class="pk" x="451.5" y="2112.5" width="157" height="22.5"/><text x="456" y="2129">EMP_TYP_CD</text>
<rect class="ix" x="451.5" y="2135" width="157" height="22.5"/><text x="456" y="2151.5">OBJ_ID</text>
<rect class="w" x="451.5" y="2157.5" width="157" height="22.5"/><text x="456" y="2174">VER_NBR</text>
<rect class="ix" x="451.5" y="2180" width="157" height="23"/><text x="456" y="2197">NM</text>
<rect class="w" x="451.5" y="2203" width="157" height="22.5"/><text x="456" y="2219.5">ACTV_IND</text>
<rect class="w" x="451.5" y="2225.5" width="157" height="23"/><text x="456" y="2242.5">DISPLAY_SORT_CD</text>
<rect class="w" x="451.5" y="2248.5" width="157" height="22.5"/><text x="456" y="2265">LAST_UPDT_DT</text>
<rect class="f" x="451.5" y="2271" width="52" height="22.5"/><rect class="f" x="503.5" y="2271" width="54" height="22.5"/><rect class="f" x="557.5" y="2271" width="51" height="22.5"/>
<text class="r" x="553.5" y="2287.5">3 rows</text><text class="r" x="604.5" y="2287.5">3 &gt;</text>
</g>
<g id="krim_entity_emp_info_t">
<rect class="h" x="699.5" y="1960.5" width="173" height="24"/><text class="t" x="786" y="1977.5">krim_entity_emp_info_t</text>
<rect class="w" x="699.5" y="1984.5" width="173" height="23"/><text x="704" y="2001.5">...</text>
<rect class="f" x="699.5" y="2007.5" width="58" height="22"/><rect class="f" x="757.5" y="2007.5" width="58" height="22"/><rect class="f" x="815.5" y="2007.5" width="57" height="22"/>
<text x="704" y="2023.5">&lt; 4</text><text class="r" x="811.5" y="2023.5">0 rows</text><text class="r" x="868.5" y="2023.5">1 &gt;</text>
</g>
<g id="krim_pnd_emp_info_mt">
<rect class="h" x="964.5" y="1927.5" width="177" height="24"/><text class="t" x="1053" y="1944.5">krim_pnd_emp_info_mt</text>
<rect class="w" x="964.5" y="1951.5" width="177" height="22"/><text x="969" y="1967.5">...</text>
<rect class="f" x="964.5" y="1973.5" width="59" height="22.5"/><rect class="f" x="1023.5" y="1973.5" width="60" height="22.5"/><rect class="f" x="1083.5" y="1973.5" width="58" height="22.5"/>
<text x="969" y="1990">&lt; 5</text><text class="r" x="1079.5" y="1990">0 rows</text>
</g>
<text x="15" y="2382">Generated by SchemaSpy</text>
</svg>
